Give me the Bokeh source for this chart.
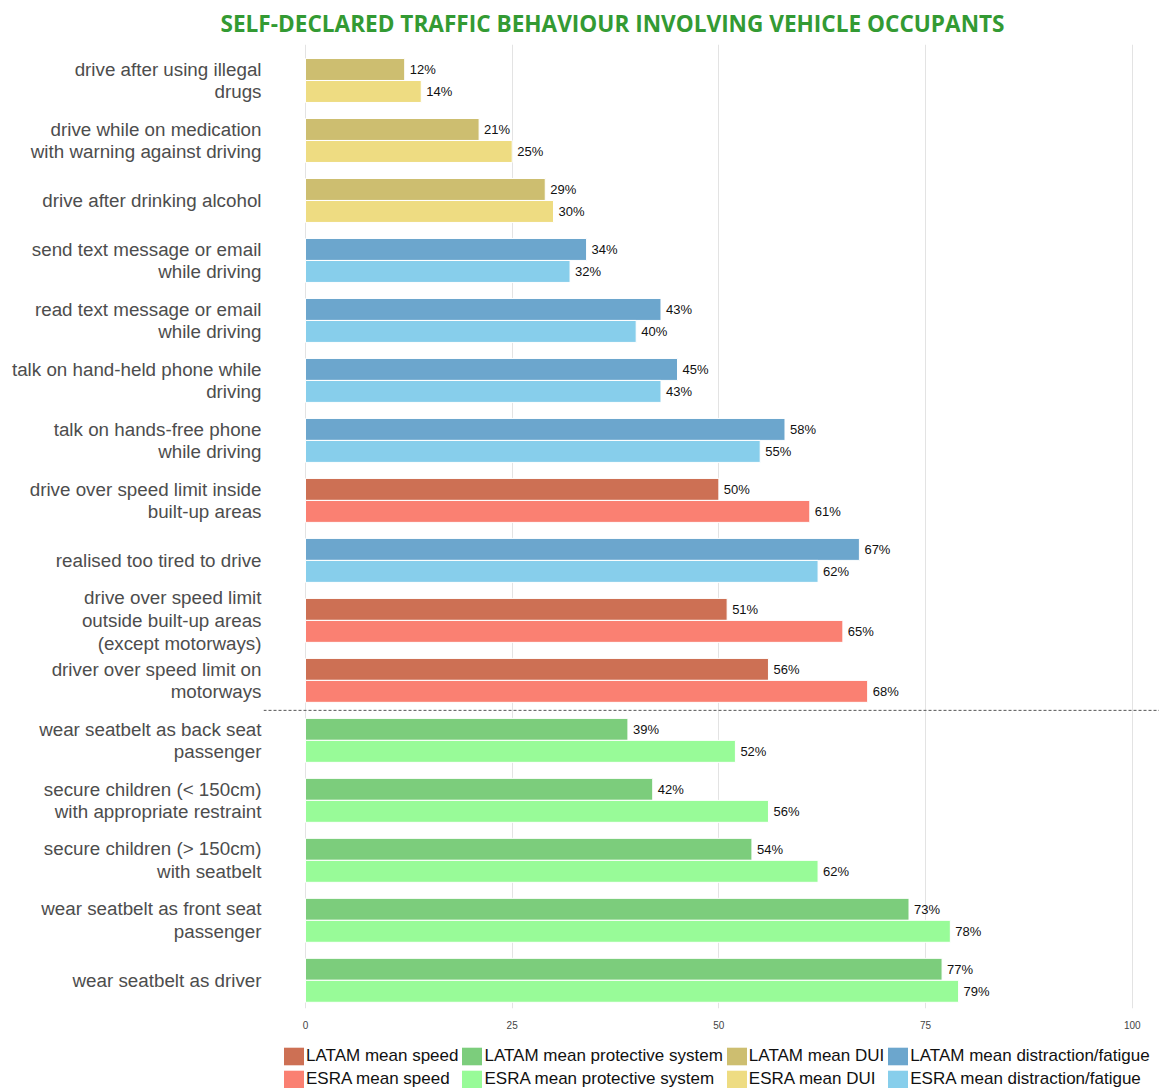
from bokeh.plotting import figure
from bokeh.models import ColumnDataSource, Span, Legend, LegendItem, FixedTicker, Range1d
from bokeh.transform import dodge
from bokeh.layouts import column
from bokeh.embed import file_html
from bokeh.resources import INLINE

categories = [
    "drive after using illegal\ndrugs",
    "drive while on medication\nwith warning against driving",
    "drive after drinking alcohol",
    "send text message or email\nwhile driving",
    "read text message or email\nwhile driving",
    "talk on hand-held phone while\ndriving",
    "talk on hands-free phone\nwhile driving",
    "drive over speed limit inside\nbuilt-up areas",
    "realised too tired to drive",
    "drive over speed limit\noutside built-up areas\n(except motorways)",
    "driver over speed limit on\nmotorways",
    "wear seatbelt as back seat\npassenger",
    "secure children (< 150cm)\nwith appropriate restraint",
    "secure children (> 150cm)\nwith seatbelt",
    "wear seatbelt as front seat\npassenger",
    "wear seatbelt as driver",
]
groups = ["dui", "dui", "dui", "dist", "dist", "dist", "dist", "speed", "dist",
          "speed", "speed", "prot", "prot", "prot", "prot", "prot"]
latam = [12, 21, 29, 34, 43, 45, 58, 50, 67, 51, 56, 39, 42, 54, 73, 77]
esra = [14, 25, 30, 32, 40, 43, 55, 61, 62, 65, 68, 52, 56, 62, 78, 79]

group_order = ["speed", "prot", "dui", "dist"]
group_names = {"speed": "speed", "prot": "protective system", "dui": "DUI",
               "dist": "distraction/fatigue"}
latam_colors = {"speed": "#CD7054", "prot": "#7CCD7C", "dui": "#CDBE70", "dist": "#6CA6CD"}
esra_colors = {"speed": "#FA8072", "prot": "#98FB98", "dui": "#EEDC82", "dist": "#87CEEB"}
x_ticks = [0, 25, 50, 75, 100]

FONT = "Liberation Sans"

# ---------------- main chart ----------------
p = figure(frame_width=896, frame_height=964, output_backend="svg", toolbar_location=None,
           x_range=Range1d(-5.08, 103.3), y_range=Range1d(15.47, -0.6),
           min_border_left=263, min_border_right=0, min_border_top=44,
           min_border_bottom=39)
p.outline_line_color = None
p.background_fill_color = "white"

p.title.text = "SELF-DECLARED TRAFFIC BEHAVIOUR INVOLVING VEHICLE OCCUPANTS"
p.title.text_font = "Open Sans"
p.title.text_font_style = "bold"
p.title.text_font_size = "22.6px"
p.title.text_color = "#339A33"
p.title.align = "left"
p.title.offset = -43
p.title.standoff = 11

p.xgrid.ticker = FixedTicker(ticks=x_ticks)
p.xgrid.grid_line_color = "#E3E3E3"
p.ygrid.grid_line_color = None

p.xaxis.ticker = FixedTicker(ticks=x_ticks)
p.xaxis.axis_line_color = None
p.xaxis.major_tick_line_color = None
p.xaxis.minor_tick_line_color = None
p.xaxis.major_tick_out = 0
p.xaxis.major_tick_in = 0
p.xaxis.major_label_text_font = FONT
p.xaxis.major_label_text_font_size = "10px"
p.xaxis.major_label_text_color = "#444444"
p.xaxis.major_label_standoff = 12

p.yaxis.ticker = FixedTicker(ticks=list(range(len(categories))))
p.yaxis.major_label_overrides = {i: c for i, c in enumerate(categories)}
p.yaxis.axis_line_color = None
p.yaxis.major_tick_line_color = None
p.yaxis.minor_tick_line_color = None
p.yaxis.major_tick_out = 0
p.yaxis.major_tick_in = 0
p.yaxis.major_label_text_font = FONT
p.yaxis.major_label_text_font_size = "18.8px"
p.yaxis.major_label_text_color = "#4D4D4D"
p.yaxis.major_label_text_line_height = 1.08
p.yaxis.major_label_standoff = 2

# ---------------- legend strip ----------------
pl = figure(width=1159, height=41, output_backend="svg", toolbar_location=None,
            x_range=Range1d(-10, -9), y_range=Range1d(-10, -9),
            x_axis_location=None, y_axis_location=None, min_border=0)
pl.outline_line_color = None
pl.grid.grid_line_color = None

latam_items = []
esra_items = []
for g in group_order:
    idx = [i for i, gg in enumerate(groups) if gg == g]
    src = ColumnDataSource(dict(
        pos=idx,
        latam=[latam[i] for i in idx],
        esra=[esra[i] for i in idx],
        latam_lbl=[f"{latam[i]}%" for i in idx],
        esra_lbl=[f"{esra[i]}%" for i in idx],
    ))
    p.hbar(y=dodge("pos", -0.1833, range=p.y_range), right="latam", left=0,
           height=0.366, fill_color=latam_colors[g], line_color="white",
           line_width=1, source=src)
    p.hbar(y=dodge("pos", 0.1833, range=p.y_range), right="esra", left=0,
           height=0.366, fill_color=esra_colors[g], line_color="white",
           line_width=1, source=src)
    p.text(x="latam", y=dodge("pos", -0.1833, range=p.y_range), text="latam_lbl",
           x_offset=5, text_baseline="middle", text_font_size="13px",
           text_color="#111111", source=src, text_font={"value": FONT})
    p.text(x="esra", y=dodge("pos", 0.1833, range=p.y_range), text="esra_lbl",
           x_offset=5, text_baseline="middle", text_font_size="13px",
           text_color="#111111", source=src, text_font={"value": FONT})
    # legend swatches (same series, drawn off-range in the legend strip)
    l1 = pl.hbar(y="pos", right="latam", left=0, height=0.366,
                 fill_color=latam_colors[g], line_color=None, source=src)
    l2 = pl.hbar(y="pos", right="esra", left=0, height=0.366,
                 fill_color=esra_colors[g], line_color=None, source=src)
    latam_items.append(LegendItem(label="LATAM mean " + group_names[g], renderers=[l1]))
    esra_items.append(LegendItem(label="ESRA mean " + group_names[g], renderers=[l2]))

sep = Span(location=10.5, dimension="width", line_color="#555555",
           line_dash="3 2", line_width=1)
p.add_layout(sep)

legend = Legend(items=latam_items + esra_items, location=(18, -2),
                orientation="horizontal", ncols=4,
                glyph_width=25, glyph_height=22, label_standoff=0, spacing=1,
                padding=0, margin=0, border_line_color=None,
                background_fill_alpha=0, label_text_font=FONT,
                label_text_font_size="17px", label_text_color="#111111",
                label_text_line_height=1.0, label_height=20)
pl.add_layout(legend, "center")

layout = column(p, pl, spacing=0)
open("out.html", "w").write(file_html(layout, INLINE))
